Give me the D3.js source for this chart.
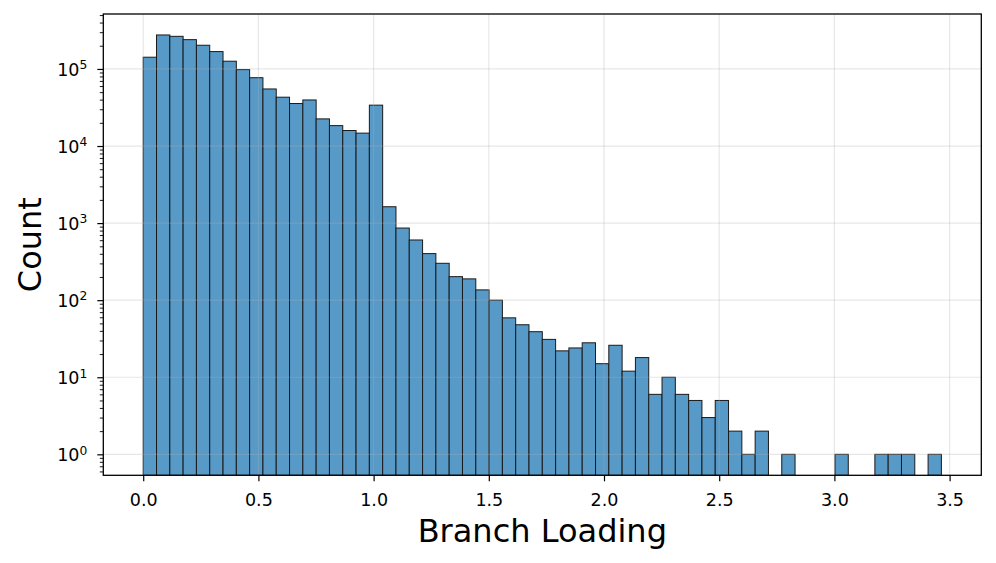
<!DOCTYPE html>
<html>
<head>
<meta charset="utf-8">
<script src="https://cdn.jsdelivr.net/npm/d3@7"></script>
<style>
  body { margin: 0; background: #fff; }
  text { font-family: "DejaVu Sans", sans-serif; fill: #000; }
</style>
</head>
<body>
<div id="body"></div>
<script>
// histogram bins: 60 bins starting at 0
var binStart = 0;
var binWidth = 0.05774;
var counts = [
  142000, 276000, 265000, 240000, 203000, 168000, 126000, 98000, 77000, 55000,
  43000, 35600, 39600, 22500, 18400, 15900, 14700, 33900, 1630, 863,
  604, 402, 301, 202, 189, 136, 100, 59, 48, 39,
  31, 22, 24, 28, 15, 26, 12, 18, 6, 10,
  6, 5, 3, 5, 2, 1, 2, 0, 1, 0,
  0, 0, 1, 0, 0, 1, 1, 1, 0, 1
];
var xTicks = [0, 0.5, 1.0, 1.5, 2.0, 2.5, 3.0, 3.5];
var yExponents = [0, 1, 2, 3, 4, 5];
var xLabel = "Branch Loading";
var yLabel = "Count";

var margin = {top: 14, right: 14.7, bottom: 87.7, left: 103.3},
  width = 996 - margin.left - margin.right,
  height = 563 - margin.top - margin.bottom;

var svg = d3.select("#body")
  .append("svg")
  .attr("width", width + margin.left + margin.right)
  .attr("height", height + margin.top + margin.bottom)
  .append("g")
  .attr("transform", "translate(" + margin.left + "," + margin.top + ")");

var bins = counts.map(function(c, i) {
  return {x0: binStart + i * binWidth, x1: binStart + (i + 1) * binWidth, count: c};
});

// matplotlib-like 5% margins
var xMax = binStart + counts.length * binWidth;
var xPad = (xMax - binStart) * 0.05;
var xScale = d3.scaleLinear()
  .domain([binStart - xPad, xMax + xPad])
  .range([0, width]);

var logHi = Math.log10(d3.max(counts));
var yPad = logHi * 0.05;
var yScale = d3.scaleLog()
  .domain([Math.pow(10, -yPad), Math.pow(10, logHi + yPad)])
  .range([height, 0]);

svg.append("clipPath").attr("id", "clip")
  .append("rect").attr("width", width).attr("height", height);

var plot = svg.append("g").attr("clip-path", "url(#clip)");

plot.selectAll("rect.bar")
  .data(bins.filter(function(d) { return d.count > 0; }))
  .enter().append("rect")
  .attr("class", "bar")
  .attr("x", function(d) { return xScale(d.x0); })
  .attr("width", function(d) { return xScale(d.x1) - xScale(d.x0); })
  .attr("y", function(d) { return yScale(d.count); })
  .attr("height", function(d) { return height - yScale(d.count); })
  .attr("fill", "#5799c7")
  .attr("stroke", "#1a1a1a")
  .attr("stroke-width", 1);

// grid on top of bars
var grid = svg.append("g").attr("class", "grid");
grid.selectAll("line.gx")
  .data(xTicks)
  .enter().append("line")
  .attr("x1", function(d) { return xScale(d); })
  .attr("x2", function(d) { return xScale(d); })
  .attr("y1", 0).attr("y2", height)
  .attr("stroke", "#b0b0b0").attr("stroke-opacity", 0.3).attr("stroke-width", 1.2);
grid.selectAll("line.gy")
  .data(yExponents)
  .enter().append("line")
  .attr("y1", function(d) { return yScale(Math.pow(10, d)); })
  .attr("y2", function(d) { return yScale(Math.pow(10, d)); })
  .attr("x1", 0).attr("x2", width)
  .attr("stroke", "#b0b0b0").attr("stroke-opacity", 0.3).attr("stroke-width", 1.2);

// x axis
var bottomAxis = d3.axisBottom(xScale)
  .tickValues(xTicks)
  .tickFormat(d3.format(".1f"))
  .tickSize(6)
  .tickPadding(12);

var gx = svg.append("g")
  .attr("transform", "translate(0," + height + ")")
  .call(bottomAxis);
gx.select(".domain").remove();
gx.selectAll(".tick line").attr("stroke", "#000").attr("stroke-width", 1.2);
gx.selectAll(".tick text")
  .style("font-family", "DejaVu Sans")
  .style("font-size", "17.5px");

// y axis: minor ticks
var minorVals = [];
yExponents.concat([-1, 6]).forEach(function(e) {
  for (var m = 2; m <= 9; m++) {
    var v = m * Math.pow(10, e);
    if (v > yScale.domain()[0] && v < yScale.domain()[1]) minorVals.push(v);
  }
});
var gyMinor = svg.append("g")
  .call(d3.axisLeft(yScale).tickValues(minorVals).tickFormat("").tickSize(3.5));
gyMinor.select(".domain").remove();
gyMinor.selectAll(".tick line").attr("stroke", "#000").attr("stroke-width", 0.9);

// y axis: major ticks with 10^n labels
var gy = svg.append("g")
  .call(d3.axisLeft(yScale)
    .tickValues(yExponents.map(function(e) { return Math.pow(10, e); }))
    .tickFormat("")
    .tickSize(6));
gy.select(".domain").remove();
gy.selectAll(".tick line").attr("stroke", "#000").attr("stroke-width", 1.2);

yExponents.forEach(function(e) {
  var t = svg.append("text")
    .attr("x", -16)
    .attr("y", yScale(Math.pow(10, e)) + 7)
    .attr("text-anchor", "end")
    .style("font-size", "17.5px");
  t.append("tspan").text("10");
  t.append("tspan")
    .attr("dy", -6.7)
    .style("font-size", "12.3px")
    .text(e);
});

// frame
svg.append("rect")
  .attr("width", width)
  .attr("height", height)
  .attr("fill", "none")
  .attr("stroke", "#000")
  .attr("stroke-width", 1.3);

// axis labels
svg.append("text")
  .attr("x", width / 2)
  .attr("y", height + 66.5)
  .attr("text-anchor", "middle")
  .style("font-size", "32px")
  .text(xLabel);

svg.append("text")
  .attr("transform", "rotate(-90)")
  .attr("x", -height / 2)
  .attr("y", -62.5)
  .attr("text-anchor", "middle")
  .style("font-size", "32px")
  .text(yLabel);
</script>
</body>
</html>
